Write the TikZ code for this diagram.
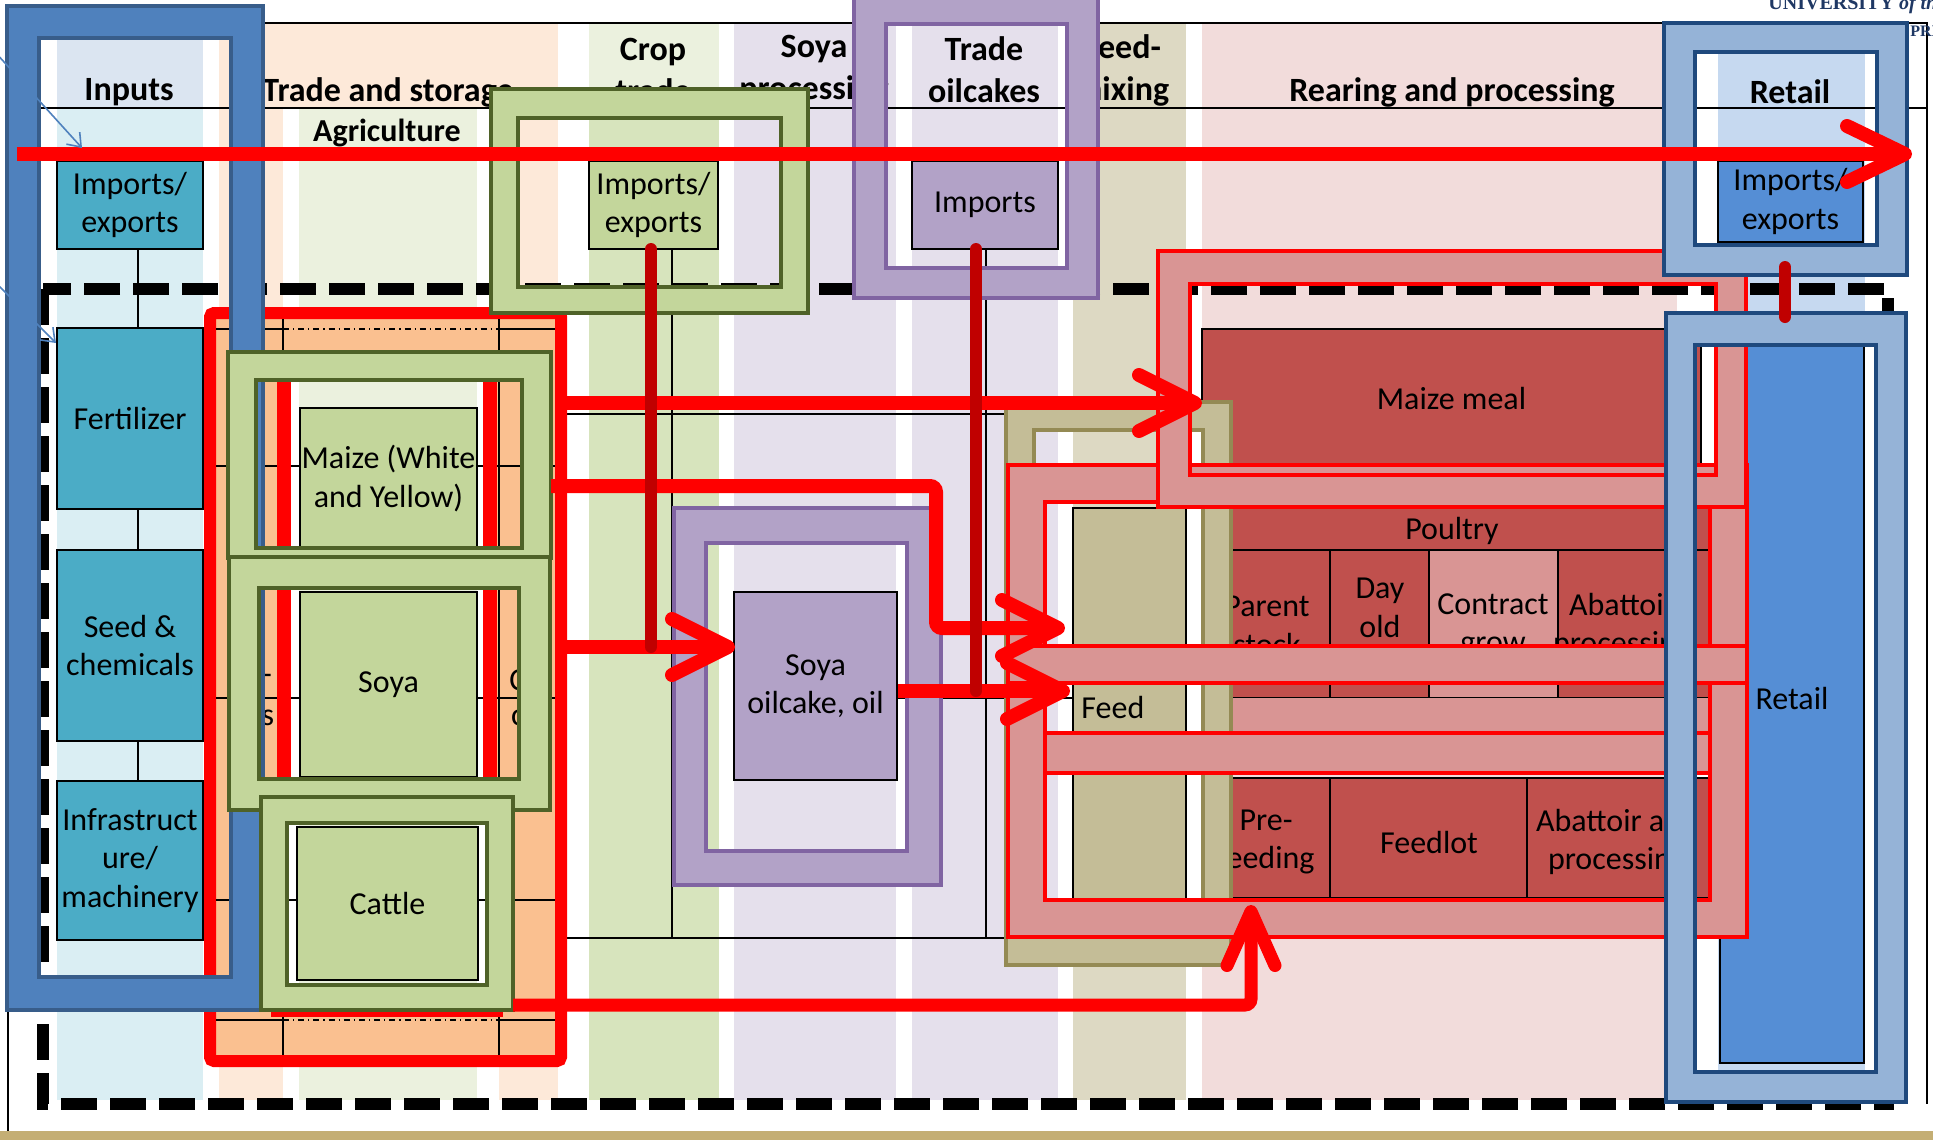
\documentclass[tikz,border=0pt]{standalone}
\usepackage{fontspec}
\setmainfont{Carlito}
\newfontfamily\logofont{Liberation Serif}
\usetikzlibrary{arrows.meta,calc}

\definecolor{bInputsH}{HTML}{DBE5F1}
\definecolor{bInputs}{HTML}{DAEEF3}
\definecolor{bPeach}{HTML}{FDE9D9}
\definecolor{bAgri}{HTML}{EBF1DE}
\definecolor{bCrop}{HTML}{D7E4BD}
\definecolor{bLav}{HTML}{E5E0EC}
\definecolor{bFeed}{HTML}{DDD9C3}
\definecolor{bRear}{HTML}{F2DCDB}
\definecolor{bRetail}{HTML}{C6D9F0}
\definecolor{cTeal}{HTML}{4BACC6}
\definecolor{cGreen}{HTML}{C3D69B}
\definecolor{cGreenD}{HTML}{4F6228}
\definecolor{cPurple}{HTML}{B2A2C7}
\definecolor{cPurpleD}{HTML}{8064A2}
\definecolor{cTan}{HTML}{C4BD97}
\definecolor{cTanD}{HTML}{948A54}
\definecolor{cMaroon}{HTML}{C0504D}
\definecolor{cPink}{HTML}{D99594}
\definecolor{cOrange}{HTML}{FAC090}
\definecolor{cBlue}{HTML}{4F81BD}
\definecolor{cBlueD}{HTML}{385D8A}
\definecolor{cRBlue}{HTML}{95B3D7}
\definecolor{cRBlueD}{HTML}{1F497D}
\definecolor{cRetail}{HTML}{558ED5}
\definecolor{cRed}{HTML}{FF0000}
\definecolor{cDRed}{HTML}{C00000}
\definecolor{cGold}{HTML}{C4AE74}
\definecolor{cNavy}{HTML}{1F3864}

\newcommand{\bodyfont}{\fontsize{16}{19.2}\selectfont}
\newcommand{\headfont}{\fontsize{17}{21}\selectfont\bfseries}
% box: name, fill, x1, y1, x2, y2, text
\newcommand{\tbox}[7]{%
  \draw[boxline,fill=#2] (#3,#4) rectangle (#5,#6);
  \node[txt] (#1) at ({(#3+#5)/2},{(#4+#6)/2}) {#7};}

\begin{document}
\begin{tikzpicture}[x=0.5pt,y=-0.5pt,
  tline/.style={draw=black,line width=0.6pt},
  boxline/.style={draw=black,line width=1.1pt},
  cellst/.style={draw=black,line width=0.6pt},
  txt/.style={inner sep=0pt,align=center,font=\bodyfont},
  head/.style={inner sep=0pt,align=center,font=\headfont},
  ring/.style 2 args={fill=#1,draw=#2,even odd rule,line width=1.8pt},
  gring/.style={ring={cGreen}{cGreenD},line width=2.3pt},
  pring/.style={ring={cPurple}{cPurpleD},line width=2pt},
  pinkring/.style={ring={cPink}{cRed},line width=2.2pt},
  pinkbar/.style={fill=cPink,draw=cRed,line width=2.2pt},
  redline/.style={draw=cRed,line width=7pt,rounded corners=3pt},
  redarr/.style={redline,-{Straight Barb[length=28pt,width=28pt,round]}},
  darkred/.style={draw=cDRed,line width=6pt,line cap=round},
  thinblue/.style={draw=cBlue,line width=0.8pt,-{Straight Barb[length=6pt,width=9pt]}},
]
\useasboundingbox (0,0) rectangle (1933,1140);
\fill[white] (0,0) rectangle (1933,1140);

% ---------- column bands ----------
\fill[bInputsH] (57,23) rectangle (203,108);
\fill[bInputs] (57,108) rectangle (203,1100);
\fill[bPeach] (219,23) rectangle (558,108);
\fill[bPeach] (219,108) rectangle (283,1100);
\fill[bAgri] (299,108) rectangle (477,1100);
\fill[bPeach] (499,108) rectangle (558,1100);
\fill[bAgri] (589,23) rectangle (719,108);
\fill[bCrop] (589,108) rectangle (719,1100);
\fill[bLav] (734,23) rectangle (896,1100);
\fill[bLav] (912,23) rectangle (1058,1100);
\fill[bFeed] (1073,23) rectangle (1186,1100);
\fill[bRear] (1202,23) rectangle (1677,1100);
\fill[bRetail] (1718,23) rectangle (1865,1100);

% ---------- table lines ----------
\draw[tline,line width=1pt] (8,23) -- (1927,23) -- (1927,1104);
\draw[tline] (8,23) -- (8,1131);
\draw[tline] (39,108) -- (1927,108);
\draw[tline] (138,249) -- (138,781);
\draw[tline] (672,249) -- (672,938);
\draw[tline] (986,249) -- (986,938);
\draw[tline] (555,414) -- (1006,414);
\draw[tline] (555,938) -- (1006,938);
\draw[tline] (897,698) -- (1073,698);

% ---------- headers ----------
\node[head] (hInputs) at (129,92) {Inputs};
\node[head] (hTrade) at (388,92) {Trade and storage};
\node[head,font=\fontsize{16}{19}\selectfont\bfseries] (hAgri) at (387,133) {Agriculture};
\node[head] (hCrop) at (653,70) {Crop\\trade};
\node[head] (hSoya) at (814,70) {Soya\\processing};
\node[head] (hOil) at (984,70) {Trade\\oilcakes};
\node[head] (hFeed) at (1122,70) {Feed-\\mixing};
\node[head] (hRear) at (1452,92) {Rearing and processing};
\node[head] (hRetail) at (1790,92) {Retail};

% ---------- dashed boundary ----------
\draw[black,line width=6pt,dash pattern=on 18pt off 6.5pt] (43,289) rectangle (1888,1104);

% ---------- inputs ----------
\tbox{inImp}{cTeal}{57}{161}{203}{249}{Imports/\\exports}
\tbox{inFert}{cTeal}{57}{328}{203}{509}{Fertilizer}
\tbox{inSeed}{cTeal}{57}{550}{203}{741}{Seed \&\\chemicals}
\tbox{inInfra}{cTeal}{57}{781}{203}{940}{Infrastruct\\ure/\\machinery}

\tbox{cropImp}{cGreen}{589}{161}{718}{249}{Imports/\\exports}
\tbox{oilImp}{cPurple}{912}{161}{1058}{249}{Imports}
\tbox{retImp}{cRetail}{1718}{161}{1863}{242}{Imports/\\exports}

% ---------- trade and storage ----------
\draw[draw=cRed,line width=6pt,fill=cOrange,rounded corners=2pt] (210,313) rectangle (561,1061);
\draw[tline] (283,319) -- (283,1055) (499,319) -- (499,1055);
\draw[tline] (216,329) -- (283,329) (499,329) -- (555,329) (216,1020) -- (283,1020) (499,1020) -- (555,1020);
\draw[tline,dash dot] (283,329) -- (499,329) (283,1020) -- (499,1020);
\fill[white] (284,370) rectangle (490,1008);
\fill[bAgri] (299,370) rectangle (477,1008);
\draw[tline] (216,466) -- (555,466) (216,698) -- (555,698) (216,900) -- (555,900);
\draw[cRed,line width=7pt] (284,800) -- (284,370) -- (490,370) -- (490,800);
\draw[cRed,line width=5pt] (276,800) rectangle (498,1012);
\node[txt] (fr1) at (267,679) {-};
\node[txt] (fr2) at (268,718) {s};
\node[txt] (fr3) at (518,680) {C};
\node[txt] (fr4) at (518,718) {c};
\tbox{maize}{cGreen}{300}{408}{477}{549}{Maize (White\\and Yellow)}
\tbox{soya}{cGreen}{300}{592}{477}{777}{Soya}
\tbox{cattle}{cGreen}{297}{827}{478}{980}{Cattle}

% ---------- inputs frame ----------
\draw[ring={cBlue}{cBlueD}] (7,6) rectangle (263,1010) (39,38) rectangle (231,977);

% ---------- green frames ----------
\draw[gring] (491,89) rectangle (808,313) (518,118) rectangle (781,287);
\draw[gring] (228,352) rectangle (551,558) (256,380) rectangle (522,548);
\draw[gring] (229,557) rectangle (550,810) (259,588) rectangle (519,779);
\draw[gring] (261,797) rectangle (513,1010) (287,823) rectangle (487,985);

% ---------- purple frames ----------
\draw[pring] (854,-10) rectangle (1098,298) (886,24) rectangle (1067,268);
\draw[pring] (674,508) rectangle (941,885) (706,543) rectangle (907,851);
\tbox{soyaOil}{cPurple}{734}{592}{897}{780}{Soya\\oilcake, oil}

% ---------- rearing and processing ----------
\tbox{maizeMeal}{cMaroon}{1202}{329}{1701}{468}{Maize meal}
\draw[cellst,fill=cMaroon] (1205,505) rectangle (1712,550);
\node[txt] (tPoultry) at (1452,531) {Poultry};
\draw[cellst,fill=cMaroon] (1205,550) rectangle (1330,698);
\draw[cellst,fill=cMaroon] (1330,550) rectangle (1429,698);
\draw[cellst,fill=cPink] (1429,550) rectangle (1558,698);
\draw[cellst,fill=cMaroon] (1558,550) rectangle (1712,698);
\fill[cPink] (1205,698) rectangle (1712,733);
\node[txt] (tParent) at (1267,626) {Parent\\stock};
\node[txt] (tDay) at (1380,608) {Day\\old};
\node[txt] (tContract) at (1493,626) {Contract\\grow};
\node[txt] (tAbatP) at (1622,626) {Abattoir\\processing};
\draw[cellst,fill=cMaroon] (1205,778) rectangle (1330,898);
\draw[cellst,fill=cMaroon] (1330,778) rectangle (1527,898);
\draw[cellst,fill=cMaroon] (1527,778) rectangle (1712,898);
\node[txt] (tPre) at (1266,842) {Pre-\\feeding};
\node[txt] (tFeedlot) at (1429,842) {Feedlot};
\node[txt] (tAbatC) at (1617,842) {Abattoir and\\processing};
\draw[boxline,fill=cTan] (1073,508) rectangle (1186,900);
\node[txt,anchor=west] (tFeed) at (1081,707) {Feed};
\draw[boxline,fill=cRetail] (1720,345) rectangle (1864,1063);
\node[txt] (retBox) at (1792,699) {Retail};

% ---------- feed-mixing frame ----------
\draw[ring={cTan}{cTanD},line width=1.6pt] (1006,402) rectangle (1231,965) (1034,430) rectangle (1203,937);

% ---------- pink frames ----------
\draw[pinkring] (1008,465) rectangle (1747,937) (1045,502) rectangle (1710,900);
\draw[pinkbar] (1008,646) rectangle (1747,683);
\draw[pinkbar] (1045,733) rectangle (1710,773);
\draw[pinkring] (1158,251) rectangle (1746,507) (1190,284) rectangle (1716,475);

% ---------- retail frames ----------
\draw[ring={cRBlue}{cRBlueD},line width=2pt] (1664,23) rectangle (1907,275) (1695,52) rectangle (1877,245);
\draw[ring={cRBlue}{cRBlueD},line width=2pt] (1666,313) rectangle (1906,1102) (1695,345) rectangle (1876,1072);

% ---------- flows ----------
\coordinate (a2s) at (561,403); \coordinate (a2e) at (1202,403);
\coordinate (a3s) at (551,486); \coordinate (a3m) at (936,628); \coordinate (a3e) at (1065,628);
\coordinate (a4s) at (561,647); \coordinate (a4e) at (735,647);
\coordinate (a5s) at (898,691); \coordinate (a5e) at (1070,691);
\coordinate (a6s) at (513,1005); \coordinate (a6e) at (1251,905);
\draw[redarr] (a2s) -- (a2e);
\draw[redarr] (a3s) -| (a3m) -- (a3e);
\draw[redarr] (a4s) -- (a4e);
\draw[redarr] (a5s) -- (a5e);
\draw[redline,line width=6.5pt,-{Straight Barb[length=27pt,width=24pt,round]}] (a6s) -| (a6e);

\coordinate (d1s) at (651,249); \coordinate (d2s) at (976,249); \coordinate (d3s) at (1785,267); \coordinate (d3e) at (1785,317);
\draw[darkred] (d1s) -- (d1s |- a4s);
\draw[darkred] (d2s) -- (d2s |- a5s);
\draw[darkred] (d3s) -- (d3e);

\coordinate (a1s) at (17,154); \coordinate (a1e) at (1912,154);
\draw[redline,-{Straight Barb[length=29pt,width=28pt,round]}] (a1s) -- (a1e);

% ---------- thin pointers ----------
\coordinate (tb1s) at (-5,52); \coordinate (tb1e) at (82,148);
\coordinate (tb2s) at (-5,282); \coordinate (tb2e) at (56,343);
\draw[thinblue] (tb1s) -- (tb1e);
\draw[thinblue] (tb2s) -- (tb2e);

% ---------- logo and strip ----------
\node[anchor=base west,inner sep=0pt,text=cNavy,font=\logofont\fontsize{10}{12}\selectfont\bfseries] (logo1) at (1768,10) {UNIVERSITY \textit{of the}};
\node[anchor=base west,inner sep=0pt,text=cNavy,font=\logofont\fontsize{8}{10}\selectfont\bfseries] (logo2) at (1910,36) {PRETORIA};
\fill[cGold] (0,1131) rectangle (1933,1140);
\end{tikzpicture}
\end{document}
